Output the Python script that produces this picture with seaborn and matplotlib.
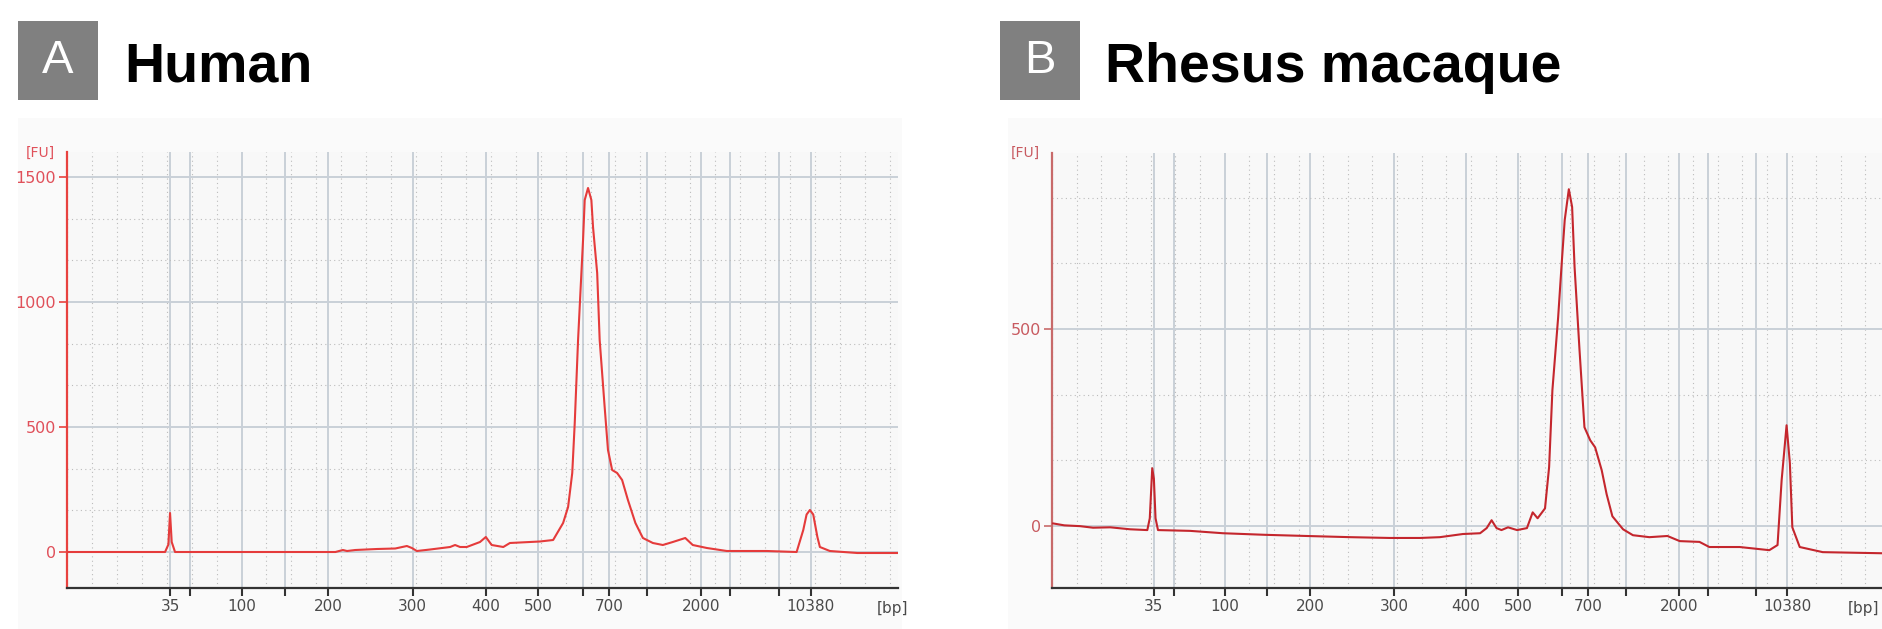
import matplotlib
matplotlib.use("Agg")
import matplotlib.pyplot as plt
import seaborn as sns
import pandas as pd
from matplotlib.patches import Rectangle
from matplotlib.ticker import FixedLocator, MultipleLocator

# ---------------- data ----------------
ladder_bp = ["35", "50", "100", "150", "200", "300", "400", "500", "600",
             "700", "1000", "2000", "3000", "7000", "10380"]
ladder_time = [12.4, 14.8, 21.0, 26.2, 31.4, 41.6, 50.4, 56.7, 62.1,
               65.2, 69.8, 76.3, 79.8, 85.7, 89.5]
labeled_bp = ["35", "100", "200", "300", "400", "500", "700", "2000", "10380"]

human_time = [0.0, 6.4, 11.8, 12.2, 12.4, 12.6, 13.0, 22.0, 32.3, 33.2, 33.7, 34.7,
              37.3, 39.5, 40.9, 41.5, 42.1, 43.7, 46.1, 46.7, 47.3, 48.1, 49.7, 50.4,
              51.1, 52.5, 53.3, 54.5, 56.9, 58.5, 59.7, 60.3, 60.8, 61.1, 61.5, 61.9,
              62.1, 62.3, 62.7, 63.1, 63.3, 63.8, 64.1, 64.7, 65.1, 65.6, 66.2, 66.8,
              67.5, 68.4, 69.3, 70.5, 71.7, 72.9, 74.4, 75.3, 77.0, 79.4, 84.2, 87.8,
              88.6, 89.0, 89.4, 89.8, 90.3, 90.6, 91.8, 95.1, 100.0]
human_fu = [0, 0, 0, 30, 156, 40, 0, 0, 0, 8, 4, 8,
            12, 14, 24, 16, 4, 10, 20, 28, 20, 20, 40, 60,
            28, 20, 36, 38, 42, 48, 116, 180, 316, 516, 848, 1116,
            1248, 1408, 1456, 1408, 1300, 1116, 848, 580, 408, 328, 316, 288,
            208, 116, 56, 36, 28, 40, 56, 28, 16, 4, 4, 0,
            88, 150, 168, 150, 60, 20, 4, -4, -4]

rhesus_time = [0.1, 1.5, 3.4, 5.0, 7.1, 9.5, 11.6, 11.9, 12.2, 12.4, 12.6, 12.9,
               16.8, 20.8, 25.9, 31.0, 36.3, 41.1, 44.8, 47.2, 50.0, 52.1, 52.9, 53.5,
               54.1, 54.7, 55.5, 56.6, 57.8, 58.5, 59.1, 60.0, 60.5, 60.9, 61.6, 62.0,
               62.4, 62.9, 63.3, 63.6, 64.2, 64.8, 65.5, 66.1, 66.9, 67.5, 68.2, 69.5,
               70.7, 72.7, 74.9, 76.4, 78.8, 80.0, 83.7, 87.3, 88.3, 88.8, 89.4, 89.8,
               90.1, 91.0, 93.8, 101.5]
rhesus_fu = [7, 2, 0, -4, -3, -8, -10, 20, 147, 120, 20, -10,
             -12, -18, -22, -25, -28, -30, -30, -28, -20, -18, -5, 15,
             -5, -10, -3, -10, -5, 35, 20, 45, 150, 345, 530, 657,
             777, 855, 810, 657, 447, 251, 218, 200, 142, 81, 25, -8,
             -23, -28, -25, -38, -40, -53, -53, -61, -48, 117, 256, 160,
             -3, -53, -66, -69]

panel_letters = ["A", "B"]
panel_titles = ["Human", "Rhesus macaque"]

# ---------------- figure ----------------
sns.set_style("white")
plt.rcParams["font.family"] = ["DejaVu Sans"]
W, H = 1883, 629
fig = plt.figure(figsize=(W / 100, H / 100), dpi=100)
fig.patch.set_facecolor("white")


def fx(x):
    return x / W


def fy(y):
    return 1 - y / H


# faint panel backgrounds (behind everything)
for (x0, x1) in [(18, 902), (1008, 1883)]:
    fig.patches.append(Rectangle((fx(x0), 0), fx(x1 - x0), (629 - 118) / H,
                                 transform=fig.transFigure, facecolor="#fafafa",
                                 edgecolor="none", zorder=-10))

axA = fig.add_axes([fx(67), fy(588), fx(831), (588 - 152) / H])
axB = fig.add_axes([fx(1052), fy(588), fx(834), (588 - 153) / H])

specs = [
    dict(ax=axA, t=human_time, fu=human_fu, color="#e53b3b", spine="#e8423f",
         ylab="#e0505a", ylim=(-144, 1600), xlim=(0, 100), yt=[0, 500, 1000, 1500],
         fu_xy=(40, 153), bp_xy=(893, 609)),
    dict(ax=axB, t=rhesus_time, fu=rhesus_fu, color="#c4262d", spine="#c86a6a",
         ylab="#c85a60", ylim=(-157, 947), xlim=(0, 101.5), yt=[0, 500],
         fu_xy=(1025, 153), bp_xy=(1864, 609)),
]

for s in specs:
    ax = s["ax"]
    ax.set_facecolor("#f8f8f8")
    df = pd.DataFrame({"time": s["t"], "FU": s["fu"]})
    sns.lineplot(data=df, x="time", y="FU", ax=ax, color=s["color"], lw=1.5,
                 sort=False, estimator=None, zorder=5)
    ax.set_xlim(*s["xlim"])
    ax.set_ylim(*s["ylim"])
    ax.set_xlabel("")
    ax.set_ylabel("")

    ax.xaxis.set_major_locator(FixedLocator(ladder_time))
    ax.set_xticklabels([b if b in labeled_bp else "" for b in ladder_bp])
    ax.xaxis.set_minor_locator(MultipleLocator(3.0))
    ax.yaxis.set_major_locator(FixedLocator(s["yt"]))
    ax.yaxis.set_minor_locator(MultipleLocator(500 / 3))

    ax.grid(which="major", color="#c9d0d8", lw=1.4, zorder=1)
    ax.grid(which="minor", color="#bcbcbc", lw=0.8, ls=(0, (1, 3)), zorder=1)
    ax.set_axisbelow(True)

    for side in ["top", "right"]:
        ax.spines[side].set_visible(False)
    ax.spines["left"].set_color(s["spine"])
    ax.spines["left"].set_linewidth(1.6)
    ax.spines["bottom"].set_color("#333333")
    ax.spines["bottom"].set_linewidth(1.6)

    ax.tick_params(axis="x", which="major", direction="out", length=6, width=1.5,
                   color="#333333", labelsize=11, labelcolor="#4a4a4a", pad=2,
                   bottom=True)
    ax.tick_params(axis="y", which="major", direction="out", length=6, width=1.2,
                   color=s["spine"], labelsize=11.5, labelcolor=s["ylab"], pad=2,
                   left=True)
    ax.tick_params(which="minor", length=0)

    fig.text(fx(s["fu_xy"][0]), fy(s["fu_xy"][1]), "[FU]", color=s["ylab"],
             fontsize=10, ha="center", va="center")
    fig.text(fx(s["bp_xy"][0]), fy(s["bp_xy"][1]), "[bp]", color="#4a4a4a",
             fontsize=11, ha="center", va="center")

# panel headers
for letter, title, (bx0, tx) in zip(panel_letters, panel_titles, [(18, 124), (1000, 1105)]):
    fig.patches.append(Rectangle((fx(bx0), fy(100)), fx(80), 79 / H,
                                 transform=fig.transFigure, facecolor="#808080",
                                 edgecolor="none", zorder=2))
    fig.text(fx(bx0 + 40), fy(61), letter, color="white", fontsize=34,
             family="Liberation Sans", ha="center", va="center")
    fig.text(fx(tx), fy(82), title, color="black", fontsize=40, weight="bold",
             family="Liberation Sans", ha="left", va="baseline")

fig.savefig("out.png", dpi=100, facecolor="white")
